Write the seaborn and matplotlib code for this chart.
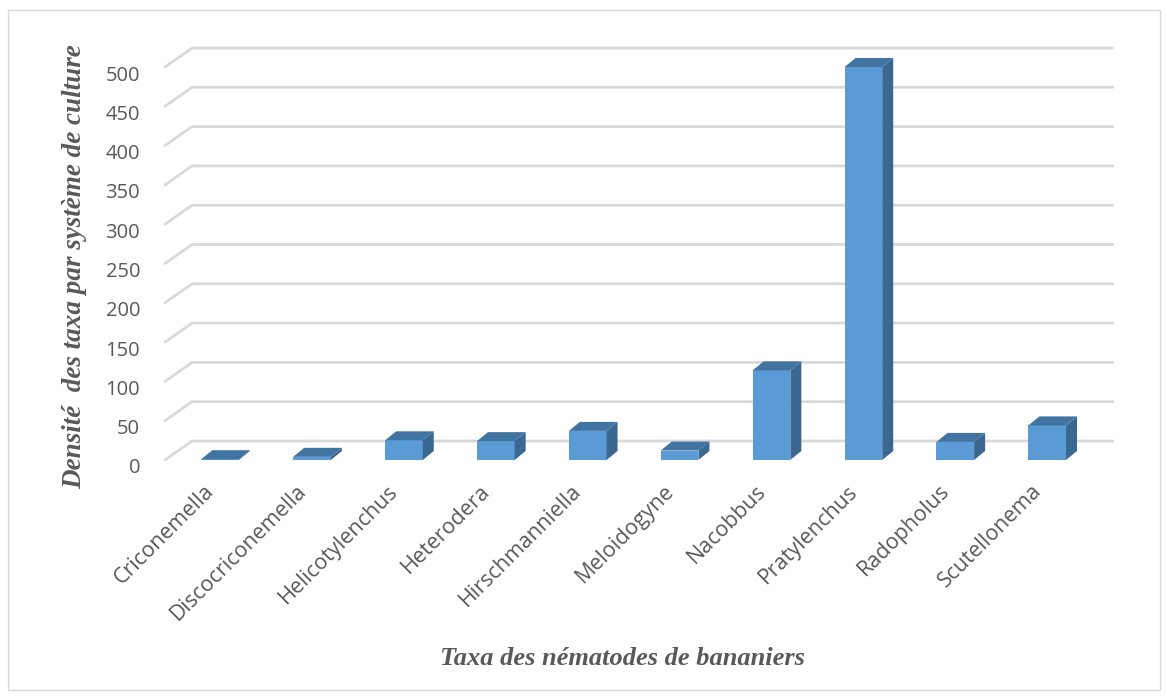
import matplotlib
matplotlib.use('Agg')
import matplotlib.pyplot as plt
import matplotlib.transforms as mtransforms
from matplotlib.patches import Polygon, Rectangle
import seaborn as sns
import pandas as pd

taxa = ['Criconemella', 'Discocriconemella', 'Helicotylenchus', 'Heterodera',
        'Hirschmanniella', 'Meloidogyne', 'Nacobbus', 'Pratylenchus',
        'Radopholus', 'Scutellonema']
density = [1, 4, 25, 24, 37, 12, 114, 500, 23, 44]
y_ticks = list(range(0, 501, 50))

df = pd.DataFrame({'taxa': taxa, 'density': density})

sns.set_style('white')
plt.rcParams['font.family'] = ['Open Sans', 'DejaVu Sans']

front = '#5B9BD5'
side = '#3A6892'
top = '#4274A2'
grid_col = '#D9D9D9'
text_col = '#595959'

fig = plt.figure(figsize=(11.67, 6.98), dpi=100)
ax = fig.add_axes([0.1414, 0.341, 0.789, 0.563])

sns.barplot(data=df, x='taxa', y='density', color=front, width=0.41,
            saturation=1, linewidth=0, edgecolor='none', ax=ax, zorder=3)

ax.set_xlim(-0.6, 9.42)
ax.set_ylim(0, 500)
ax.set_yticks(y_ticks)
ax.set_yticklabels([str(v) for v in y_ticks], fontsize=14.5, color=text_col)
ax.tick_params(axis='y', length=0, pad=18)
ax.tick_params(axis='x', length=0, pad=8)
for lab in ax.get_yticklabels():
    lab.set_transform(lab.get_transform() +
                      mtransforms.ScaledTranslation(0, -0.06, fig.dpi_scale_trans))
for lab in ax.get_xticklabels():
    lab.set_rotation(45)
    lab.set_ha('right')
    lab.set_va('center')
    lab.set_rotation_mode('anchor')
    lab.set_fontsize(15.5)
    lab.set_color(text_col)
    lab.set_transform(lab.get_transform() +
                      mtransforms.ScaledTranslation(-0.09, -0.17, fig.dpi_scale_trans))
for s in ax.spines.values():
    s.set_visible(False)
ax.patch.set_alpha(0)

ax.set_xlabel('Taxa des nématodes de bananiers', family='Liberation Serif',
              style='italic', weight='bold', fontsize=19, color=text_col)
ax.set_ylabel('Densité  des taxa par système de culture', family='Liberation Serif',
              style='italic', weight='bold', fontsize=19.5, color=text_col)
ax.xaxis.set_label_coords(0.497, -0.475)
ax.yaxis.set_label_coords(-0.084, 0.491)

fig.canvas.draw()
to_disp = ax.transData.transform
ident = mtransforms.IdentityTransform()

# back wall gridlines with the diagonal floor edge
gdx, gdy = 27, 19
x0, x1 = ax.get_xlim()
for v in y_ticks:
    (ax0, ay), = to_disp([(x0, v)])
    (bx1, _), = to_disp([(x1, v)])
    line = plt.Line2D([ax0, ax0 + gdx, bx1 + gdx], [ay, ay + gdy, ay + gdy],
                      color=grid_col, lw=2, transform=ident, zorder=0)
    fig.add_artist(line)

# depth faces of each bar
bdx, bdy = 11, 9
for p in ax.patches:
    px0 = p.get_x()
    px1 = px0 + p.get_width()
    h = p.get_height()
    (lx, by), (rx, ty) = to_disp([(px0, 0), (px1, h)])
    fig.add_artist(Polygon([(rx, by), (rx + bdx, by + bdy), (rx + bdx, ty + bdy), (rx, ty)],
                           closed=True, fc=side, ec='none', transform=ident, zorder=4))
    fig.add_artist(Polygon([(lx, ty), (lx + bdx, ty + bdy), (rx + bdx, ty + bdy), (rx, ty)],
                           closed=True, fc=top, ec='none', transform=ident, zorder=4))

fig.add_artist(Rectangle((0.007, 0.012), 0.987, 0.973, transform=fig.transFigure,
                         fill=False, ec='#D9D9D9', lw=1))

fig.savefig('out.png', dpi=100)
